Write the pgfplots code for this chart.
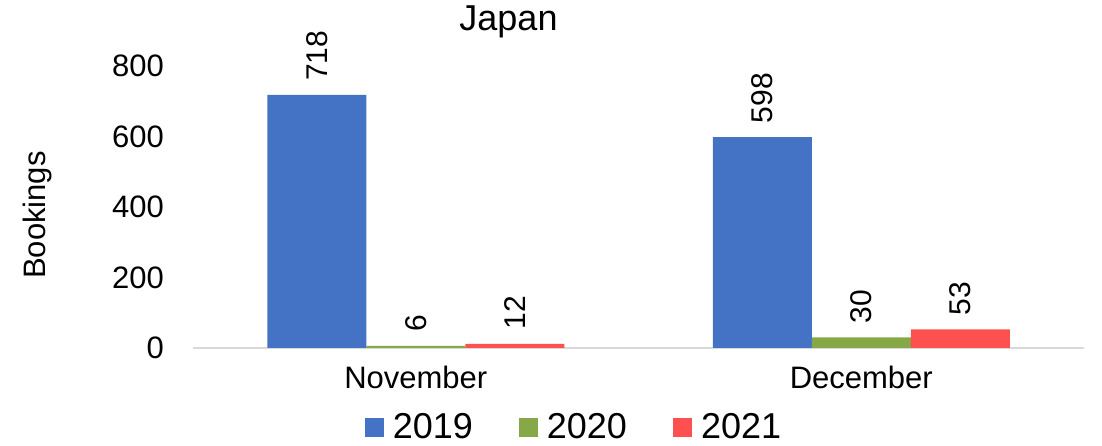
\documentclass[border=0pt]{standalone}
\usepackage{fontspec}
\setmainfont{Liberation Sans}
\usepackage{pgfplots}
\pgfplotsset{compat=1.18}
\definecolor{c19}{HTML}{4472C4}
\definecolor{c20}{HTML}{86A846}
\definecolor{c21}{HTML}{FF5050}
\definecolor{axgray}{HTML}{D9D9D9}
\begin{document}
\begin{tikzpicture}
\path[use as bounding box] (0,0) rectangle (1102pt,446pt);
\begin{axis}[
  at={(193pt,98pt)}, anchor=south west,
  scale only axis, width=891pt, height=282pt,
  ybar=0pt, bar width=99pt,
  xmin=-0.5, xmax=1.5, ymin=0, ymax=800,
  enlargelimits=false, clip=false,
  xtick={0,1}, xticklabels={November,December},
  ytick={0,200,...,800},
  major tick length=0pt,
  axis x line*=bottom, axis y line*=left,
  axis line style={-},
  y axis line style={draw=none},
  x axis line style={draw=axgray, line width=1.5pt},
  /pgf/number format/assume math mode=true,
  tick label style={font=\fontsize{31}{36}\selectfont},
  yticklabel style={anchor=east, inner sep=0pt, xshift=-29pt},
  xticklabel style={anchor=north, inner sep=0pt, yshift=-18pt},
  ylabel={Bookings},
  every axis y label/.style={at={(axis description cs:-0.175,0.4716)}, rotate=90, anchor=center, font=\fontsize{31}{36}\selectfont},
  title={Japan},
  title style={at={(axis description cs:0.5,1)}, anchor=base, xshift=-130pt, yshift=29pt, font=\fontsize{36}{40}\selectfont},
  nodes near coords,
  nodes near coords style={rotate=90, anchor=west, inner sep=0pt, inner xsep=14pt, text=black, font=\fontsize{30}{34}\selectfont},
  legend columns=3,
  legend image code/.code={\fill[#1] (0pt,-10pt) rectangle (19pt,9pt); \path (26pt,0pt);},
  legend style={draw=none, at={(axis description cs:0.4276,0)}, anchor=center, yshift=-79pt,
    font=\fontsize{36}{40}\selectfont, /tikz/every even column/.append style={column sep=44pt}},
]
\addplot[fill=c19, draw=none] coordinates {(0,718) (1,598)};
\addplot[fill=c20, draw=none] coordinates {(0,6) (1,30)};
\addplot[fill=c21, draw=none] coordinates {(0,12) (1,53)};
\legend{2019,2020,2021}
\end{axis}
\end{tikzpicture}
\end{document}
